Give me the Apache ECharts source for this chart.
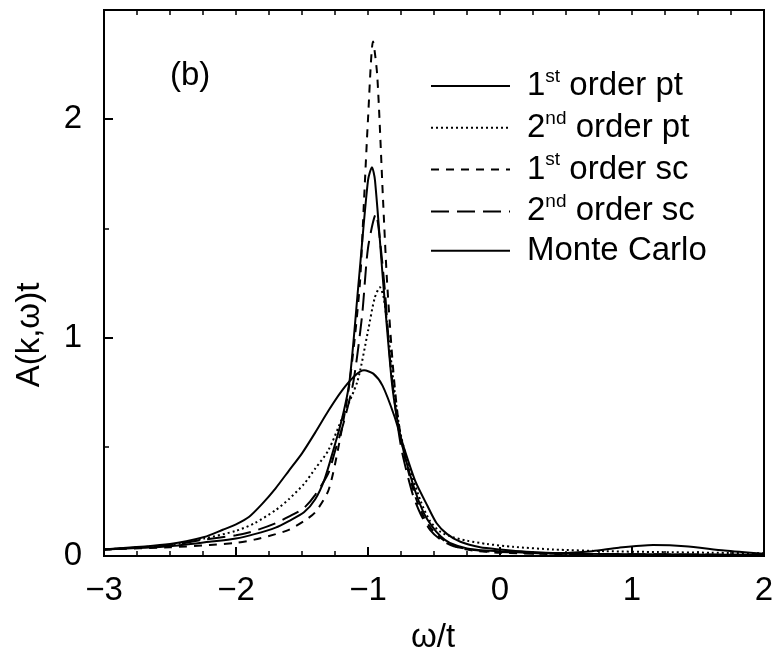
<!DOCTYPE html>
<html>
<head>
<meta charset="utf-8">
<script src="https://cdn.jsdelivr.net/npm/echarts@6/dist/echarts.min.js"></script>
<style>html,body{margin:0;padding:0;background:#fff;}#c{width:778px;height:662px;}</style>
</head>
<body>
<div id="c"></div>
<script>
// ---- data ----
const seriesNames = ['1st order pt', '2nd order pt', '1st order sc', '2nd order sc', 'Monte Carlo'];
const xTickLabels = ['−3', '−2', '−1', '0', '1', '2'];
const yTickLabels = ['0', '1', '2'];

// 1st order perturbation theory (sharp solid)
const pt1W = [-3, -2.5, -2.2, -2.0, -1.86, -1.7, -1.6, -1.485, -1.4, -1.33, -1.265, -1.2, -1.14, -1.07, -1.0, -0.97, -0.947, -0.886, -0.82, -0.78, -0.73, -0.65, -0.58, -0.52, -0.45, -0.38, -0.25, -0.1, 0.2, 0.6, 1, 2];
const pt1A = [0.03, 0.045, 0.065, 0.08, 0.10, 0.13, 0.16, 0.20, 0.26, 0.35, 0.48, 0.62, 0.80, 1.26, 1.72, 1.78, 1.72, 1.26, 0.80, 0.63, 0.48, 0.31, 0.20, 0.14, 0.09, 0.06, 0.035, 0.025, 0.015, 0.01, 0.008, 0.005];

// 2nd order perturbation theory (dotted)
const pt2W = [-3, -2.5, -2.24, -2.0, -1.86, -1.7, -1.6, -1.485, -1.4, -1.3, -1.19, -1.08, -1.0, -0.95, -0.91, -0.88, -0.84, -0.8, -0.76, -0.7, -0.6, -0.53, -0.45, -0.35, -0.25, -0.1, 0.1, 0.4, 0.8, 1.2, 1.6, 2];
const pt2A = [0.03, 0.05, 0.08, 0.115, 0.15, 0.21, 0.26, 0.33, 0.40, 0.484, 0.64, 0.80, 1.03, 1.18, 1.23, 1.18, 0.98, 0.76, 0.58, 0.43, 0.25, 0.16, 0.11, 0.085, 0.07, 0.055, 0.042, 0.03, 0.022, 0.018, 0.015, 0.012];

// 1st order self-consistent (short dash)
const sc1W = [-3, -2.5, -2.2, -2.0, -1.86, -1.7, -1.6, -1.485, -1.4, -1.3, -1.23, -1.15, -1.1, -1.06, -1.03, -1.0, -0.962, -0.93, -0.886, -0.856, -0.81, -0.77, -0.72, -0.64, -0.57, -0.5, -0.42, -0.32, -0.2, 0, 0.5, 1, 2];
const sc1A = [0.03, 0.04, 0.05, 0.06, 0.075, 0.10, 0.12, 0.16, 0.20, 0.30, 0.48, 0.75, 1.0, 1.26, 1.63, 2.0, 2.356, 2.2, 1.63, 1.26, 0.86, 0.62, 0.45, 0.27, 0.17, 0.11, 0.07, 0.04, 0.025, 0.015, 0.008, 0.006, 0.004];

// 2nd order self-consistent (long dash)
const sc2W = [-3, -2.5, -2.24, -2.0, -1.86, -1.7, -1.6, -1.485, -1.4, -1.3, -1.25, -1.18, -1.11, -1.045, -1.0, -0.94, -0.91, -0.87, -0.83, -0.78, -0.74, -0.66, -0.6, -0.53, -0.45, -0.35, -0.2, 0, 0.5, 1, 2];
const sc2A = [0.03, 0.05, 0.075, 0.095, 0.115, 0.15, 0.18, 0.22, 0.28, 0.38, 0.48, 0.62, 0.80, 1.1, 1.41, 1.566, 1.45, 1.2, 0.88, 0.62, 0.47, 0.28, 0.19, 0.12, 0.075, 0.045, 0.028, 0.018, 0.01, 0.008, 0.005];

// Monte Carlo (broad solid)
const mcW = [-3, -2.5, -2.24, -2.1, -2.0, -1.9, -1.8, -1.7, -1.6, -1.5, -1.4, -1.3, -1.2, -1.1, -1.03, -0.96, -0.89, -0.8, -0.73, -0.64, -0.55, -0.48, -0.4, -0.3, -0.15, 0, 0.2, 0.45, 0.7, 0.9, 1.16, 1.4, 1.7, 2];
const mcA = [0.03, 0.055, 0.087, 0.12, 0.145, 0.18, 0.24, 0.31, 0.39, 0.47, 0.565, 0.665, 0.755, 0.825, 0.85, 0.835, 0.78, 0.64, 0.50, 0.34, 0.23, 0.15, 0.10, 0.065, 0.04, 0.03, 0.02, 0.014, 0.022, 0.038, 0.05, 0.045, 0.025, 0.01];

const curves = [
  {name: seriesNames[0], w: pt1W, a: pt1A, dash: 'solid'},
  {name: seriesNames[1], w: pt2W, a: pt2A, dash: [2, 3]},
  {name: seriesNames[2], w: sc1W, a: sc1A, dash: [8, 7]},
  {name: seriesNames[3], w: sc2W, a: sc2A, dash: [18, 8]},
  {name: seriesNames[4], w: mcW, a: mcA, dash: 'solid'}
];

const FONT = 'Liberation Sans';
const chart = echarts.init(document.getElementById('c'), null, {renderer: 'canvas'});

const legendRich = {
  g: {width: 12, fontSize: 33, fontFamily: FONT},
  n: {fontSize: 33, fontFamily: FONT, color: '#000', lineHeight: 38},
  s: {fontSize: 19, fontFamily: FONT, color: '#000', verticalAlign: 'top', lineHeight: 19}
};
function legendFmt(name) {
  const m = name.match(/^(\d)(st|nd)(.*)$/);
  if (m) return '{g| }{n|' + m[1] + '}{s|' + m[2] + '}{n|' + m[3] + '}';
  return '{g| }{n|' + name + '}';
}

const option = {
  animation: false,
  backgroundColor: '#fff',
  grid: {left: 104, right: 14, top: 10, bottom: 106, show: true, borderColor: '#000', borderWidth: 2},
  legend: {
    show: true,
    orient: 'vertical',
    left: 430,
    top: 67,
    padding: 0,
    itemWidth: 79,
    itemHeight: 14,
    itemGap: 6.3,
    data: seriesNames,
    formatter: legendFmt,
    itemStyle: {opacity: 0},
    textStyle: {rich: legendRich, fontSize: 33, fontFamily: FONT}
  },
  xAxis: [
    {
      type: 'value', min: -3, max: 2, interval: 1, position: 'bottom',
      axisLine: {show: true, onZero: false, lineStyle: {color: '#000', width: 2}},
      axisTick: {show: true, inside: true, length: 9, lineStyle: {color: '#000', width: 2}},
      minorTick: {show: true, splitNumber: 4, length: 5, lineStyle: {color: '#000', width: 1.5}},
      splitLine: {show: false},
      axisLabel: {
        margin: 18, color: '#000', fontSize: 33, fontFamily: FONT,
        formatter: v => xTickLabels[Math.round(v) + 3]
      }
    },
    {
      type: 'value', min: -3, max: 2, interval: 0.25, position: 'top',
      axisLine: {show: true, onZero: false, lineStyle: {color: '#000', width: 2}},
      axisTick: {show: true, inside: true, length: 5, lineStyle: {color: '#000', width: 1.5}},
      splitLine: {show: false},
      axisLabel: {show: false}
    }
  ],
  yAxis: [
    {
      type: 'value', min: 0, max: 2.5, interval: 0.5, position: 'left',
      axisLine: {show: true, onZero: false, lineStyle: {color: '#000', width: 2}},
      axisTick: {show: true, inside: true, length: 5, lineStyle: {color: '#000', width: 1.5}},
      splitLine: {show: false},
      axisLabel: {
        margin: 22, color: '#000', fontSize: 33, fontFamily: FONT,
        formatter: v => (Math.abs(v - Math.round(v)) < 1e-6 && Math.round(v) <= 2) ? yTickLabels[Math.round(v)] : ''
      }
    },
    {
      type: 'value', min: 0, max: 2.5, interval: 1, position: 'left',
      axisLine: {show: false, onZero: false},
      axisTick: {show: true, inside: true, length: 9, lineStyle: {color: '#000', width: 2}},
      splitLine: {show: false},
      axisLabel: {show: false}
    }
  ],
  graphic: [
    {type: 'text', x: 170, y: 76, style: {text: '(b)', fontSize: 33, fontFamily: FONT, fill: '#000', verticalAlign: 'middle'}},
    {type: 'text', x: 433, y: 638, style: {text: 'ω/t', fontSize: 33, fontFamily: FONT, fill: '#000', align: 'center', verticalAlign: 'middle'}},
    {type: 'text', x: 30, y: 335, rotation: Math.PI / 2, style: {text: 'A(k,ω)t', fontSize: 33, fontFamily: FONT, fill: '#000', align: 'center', verticalAlign: 'middle'}}
  ],
  series: curves.map(c => ({
    name: c.name,
    type: 'line',
    xAxisIndex: 0,
    yAxisIndex: 0,
    symbol: 'none',
    smooth: 0.25,
    data: c.w.map((w, i) => [w, c.a[i]]),
    lineStyle: {color: '#000', width: 2, type: c.dash},
    itemStyle: {color: '#000'}
  }))
};
chart.setOption(option);
</script>
</body>
</html>
